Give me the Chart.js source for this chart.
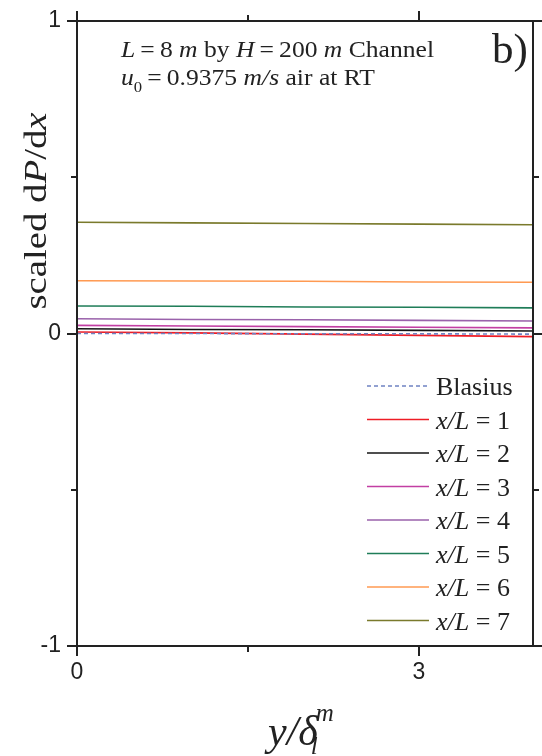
<!DOCTYPE html>
<html>
<head>
<meta charset="utf-8">
<script src="https://cdn.jsdelivr.net/npm/chart.js@4.4.1/dist/chart.umd.min.js"></script>
<style>
  html, body { margin: 0; padding: 0; background: #fff; }
  #wrap { width: 542px; height: 756px; }
</style>
</head>
<body>
<div id="wrap"><canvas id="c" width="542" height="756"></canvas></div>
<script>
// --- data ---
const xVals = [0, 1, 2, 3, 4];
const blasius = [0.000, 0.000, -0.001, -0.001, -0.002];
const xl1 = [0.005, 0.002, -0.002, -0.006, -0.010];
const xl2 = [0.015, 0.013, 0.012, 0.010, 0.008];
const xl3 = [0.026, 0.024, 0.022, 0.020, 0.018];
const xl4 = [0.047, 0.045, 0.044, 0.042, 0.040];
const xl5 = [0.088, 0.087, 0.085, 0.084, 0.082];
const xl6 = [0.169, 0.168, 0.167, 0.165, 0.164];
const xl7 = [0.356, 0.354, 0.352, 0.350, 0.348];

const seriesNames = ['Blasius', '1', '2', '3', '4', '5', '6', '7'];
const seriesData = [blasius, xl1, xl2, xl3, xl4, xl5, xl6, xl7];
const seriesColors = ['#6f82c2', '#ee1c25', '#151515', '#c23fa3', '#9a62ab', '#1f7d58', '#ff9a52', '#7a7a2c'];

const xTickStep = 1.5;
const yTickStep = 0.5;

const SERIF = '"Liberation Serif", "Times New Roman", serif';
const SANS = '"Liberation Sans", Arial, sans-serif';
const INK = '#222';

// draw a run of text pieces (italic / size / vertical shift), sx = horizontal stretch
function rich(ctx, parts, x, y, sx) {
    sx = sx || 1;
    ctx.save();
    ctx.translate(x, y);
    ctx.scale(sx, 1);
    let cx = 0;
    parts.forEach(p => {
        ctx.font = (p.i ? 'italic ' : '') + p.s + 'px ' + SERIF;
        ctx.fillText(p.t, cx, p.dy || 0);
        cx += ctx.measureText(p.t).width;
    });
    ctx.restore();
    return x + cx * sx;
}
function richWidth(ctx, parts) {
    let w = 0;
    parts.forEach(p => {
        ctx.font = (p.i ? 'italic ' : '') + p.s + 'px ' + SERIF;
        w += ctx.measureText(p.t).width;
    });
    return w;
}

const datasets = seriesData.map((vals, i) => ({
    label: seriesNames[i],
    data: xVals.map((x, j) => ({ x: x, y: vals[j] })),
    borderColor: seriesColors[i],
    borderWidth: 1.6,
    borderDash: i === 0 ? [4, 3] : [],
    pointRadius: 0,
    fill: false,
    tension: 0
}));

// frame, mirrored ticks, annotation, axis titles, legend
const decor = {
    id: 'decor',
    afterDraw(chart) {
        const ctx = chart.ctx;
        const a = chart.chartArea;
        const xs = chart.scales.x;
        const ys = chart.scales.y;
        ctx.save();
        ctx.strokeStyle = INK;
        ctx.lineWidth = 2;
        ctx.strokeRect(a.left, a.top, a.right - a.left, a.bottom - a.top);

        ys.ticks.forEach(t => {
            const py = Math.round(ys.getPixelForValue(t.value));
            const len = Number.isInteger(t.value) ? 10 : 6;
            ctx.beginPath();
            ctx.moveTo(a.left - len, py); ctx.lineTo(a.left, py);
            ctx.moveTo(a.right, py); ctx.lineTo(a.right + len, py);
            ctx.stroke();
        });
        xs.ticks.forEach(t => {
            const px = Math.round(xs.getPixelForValue(t.value));
            const len = (t.value % 3 === 0) ? 10 : 6;
            ctx.beginPath();
            ctx.moveTo(px, a.bottom); ctx.lineTo(px, a.bottom + len);
            ctx.moveTo(px, a.top); ctx.lineTo(px, a.top - len);
            ctx.stroke();
        });

        ctx.fillStyle = INK;
        ctx.textBaseline = 'alphabetic';
        ctx.textAlign = 'left';

        // annotation
        const fs = 23;
        const line1 = [
            { t: 'L', i: true, s: fs },
            { t: '\u2009=\u20098 ', s: fs },
            { t: 'm', i: true, s: fs },
            { t: ' by ', s: fs },
            { t: 'H', i: true, s: fs },
            { t: '\u2009=\u2009200 ', s: fs },
            { t: 'm', i: true, s: fs },
            { t: ' Channel', s: fs }
        ];
        const sx1 = 313 / richWidth(ctx, line1);
        rich(ctx, line1, 121, 57, sx1);
        rich(ctx, [
            { t: 'u', i: true, s: fs },
            { t: '0', s: 15, dy: 7 },
            { t: '\u2009=\u20090.9375 ', s: fs },
            { t: 'm/s', i: true, s: fs },
            { t: ' air at RT', s: fs }
        ], 121, 85, sx1);

        ctx.font = '43px ' + SERIF;
        ctx.fillText('b)', 492, 63);

        // y title (rotated)
        const yt = [
            { t: 'scaled d', s: 32 },
            { t: 'P', i: true, s: 32 },
            { t: '/d', s: 32 },
            { t: 'x', i: true, s: 32 }
        ];
        const ysx = 197 / richWidth(ctx, yt);
        ctx.save();
        ctx.translate(46, 211);
        ctx.rotate(-Math.PI / 2);
        rich(ctx, yt, -197 / 2, 0, ysx);
        ctx.restore();

        // x title
        const xt = [
            { t: 'y', i: true, s: 42 },
            { t: '/', i: true, s: 42 },
            { t: '\u03b4', i: true, s: 42 }
        ];
        const endX = rich(ctx, xt, 268, 745);
        ctx.font = 'italic 25px ' + SERIF;
        ctx.fillText('m', endX - 2, 721);
        ctx.fillText('l', endX - 7, 754);

        // legend
        const lx0 = 367, lx1 = 429, tx = 436, ly0 = 386, dy = 33.5, lf = 26;
        seriesNames.forEach((name, i) => {
            const y = ly0 + i * dy;
            ctx.save();
            ctx.strokeStyle = seriesColors[i];
            ctx.lineWidth = 1.6;
            ctx.setLineDash(i === 0 ? [4, 3] : []);
            ctx.beginPath();
            ctx.moveTo(lx0, y); ctx.lineTo(lx1, y);
            ctx.stroke();
            ctx.restore();
            ctx.fillStyle = INK;
            if (i === 0) {
                rich(ctx, [{ t: 'Blasius', s: lf }], tx, y + 9);
            } else {
                rich(ctx, [
                    { t: 'x/L', i: true, s: lf },
                    { t: ' = ' + name, s: lf }
                ], tx, y + 9);
            }
        });
        ctx.restore();
    }
};

new Chart(document.getElementById('c'), {
    type: 'line',
    data: { datasets },
    options: {
        responsive: false,
        animation: false,
        events: [],
        layout: { padding: { top: 21, right: 9, left: 0, bottom: 0 } },
        plugins: { legend: { display: false }, tooltip: { enabled: false } },
        scales: {
            x: {
                type: 'linear',
                min: 0, max: 4,
                afterFit: s => { s.height = 110; s.paddingLeft = 0; s.paddingRight = 0; },
                grid: { display: false, drawTicks: false },
                border: { display: false },
                ticks: {
                    stepSize: xTickStep,
                    includeBounds: false,
                    padding: 13,
                    color: INK,
                    font: { family: SANS, size: 23 },
                    callback: v => (v % 3 === 0 ? String(v) : '')
                }
            },
            y: {
                type: 'linear',
                min: -1, max: 1,
                afterFit: s => { s.width = 77; s.paddingTop = 0; s.paddingBottom = 0; },
                grid: { display: false, drawTicks: false },
                border: { display: false },
                ticks: {
                    stepSize: yTickStep,
                    padding: 16,
                    color: INK,
                    font: { family: SANS, size: 23 },
                    callback: v => (Number.isInteger(v) ? String(v) : '')
                }
            }
        }
    },
    plugins: [decor]
});
</script>
</body>
</html>
